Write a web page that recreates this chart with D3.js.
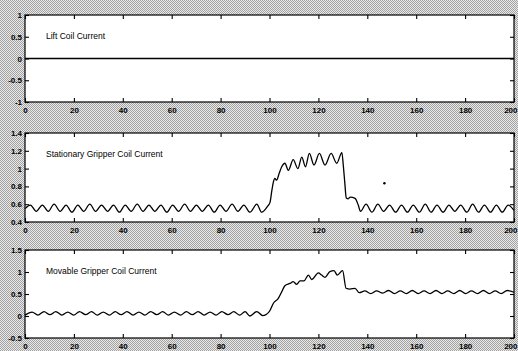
<!DOCTYPE html>
<html>
<head>
<meta charset="utf-8">
<script src="https://cdn.jsdelivr.net/npm/d3@7"></script>
<style>
  body { margin: 0; background: #fff; }
  svg { display: block; }
</style>
</head>
<body>
<div id="chart"></div>
<script>
// ---- data ----
const xTicks = [0, 20, 40, 60, 80, 100, 120, 140, 160, 180, 200];

const panelTitles = ['Lift Coil Current', 'Stationary Gripper Coil Current', 'Movable Gripper Coil Current'];

const liftTicks = [-1, -0.5, 0, 0.5, 1];
const statTicks = [0.4, 0.6, 0.8, 1, 1.2, 1.4];
const movTicks = [-0.5, 0, 0.5, 1, 1.5];

const liftTime = [0, 50, 100, 150, 200];
const liftCurrent = [0, 0, 0, 0, 0];

const statTime = [0, 2.2, 4.6, 7.1, 9.5, 11.9, 14.4, 16.8, 19.2, 21.6, 24.0, 26.5, 28.9, 31.3, 33.8, 36.2,
  38.6, 41.0, 43.4, 45.9, 48.3, 50.7, 53.1, 55.6, 58.0, 60.4, 62.8, 65.3, 67.7, 70.1, 72.5, 75.0, 77.4,
  79.8, 82.2, 84.7, 87.1, 89.5, 92.0, 94.8, 96.8, 99.3, 100.2, 101.0, 101.6, 102.2, 102.9, 104.0, 105.0,
  106.3, 107.7, 109.7, 111.6, 113.2, 114.7, 116.3, 118.2, 120.4, 122.7, 125.2, 127.5, 129.6, 130.2, 130.8,
  131.4, 132.2, 133.0, 135.0, 136.3, 137.2, 139.5, 141.9, 144.3, 146.7, 149.1, 151.6, 154.0, 156.4, 158.8,
  161.3, 163.7, 166.1, 168.5, 171.0, 173.4, 175.8, 178.2, 180.7, 183.1, 185.5, 187.9, 190.4, 192.8, 195.2,
  197.6, 200.0];
const statCurrent = [0.55, 0.59, 0.52, 0.59, 0.52, 0.60, 0.52, 0.59, 0.51, 0.59, 0.52, 0.60, 0.52, 0.59, 0.52, 0.59,
  0.51, 0.59, 0.52, 0.60, 0.52, 0.59, 0.52, 0.59, 0.51, 0.59, 0.52, 0.60, 0.52, 0.59, 0.52, 0.59, 0.51,
  0.59, 0.52, 0.60, 0.52, 0.59, 0.51, 0.60, 0.51, 0.58, 0.62, 0.76, 0.85, 0.89, 0.87, 0.95, 1.02,
  1.06, 0.98, 1.10, 1.00, 1.13, 1.02, 1.17, 1.04, 1.17, 1.04, 1.17, 1.06, 1.18, 1.03, 0.84,
  0.67, 0.66, 0.68, 0.665, 0.59, 0.52, 0.60, 0.51, 0.60, 0.52, 0.59, 0.51, 0.59, 0.51, 0.59,
  0.51, 0.60, 0.51, 0.59, 0.51, 0.59, 0.52, 0.59, 0.51, 0.60, 0.51, 0.59, 0.51, 0.59, 0.51,
  0.59, 0.53];
// one stray sample on the stationary trace
const statDotTime = [147];
const statDotCurrent = [0.835];

const movTime = [0, 2.9, 5.3, 7.8, 10.2, 12.6, 15.1, 17.5, 19.9, 22.3, 24.8, 27.2, 29.6, 32.0, 34.5, 36.9,
  39.3, 41.7, 44.2, 46.6, 49.0, 51.4, 53.9, 56.3, 58.7, 61.1, 63.6, 66.0, 68.4, 70.8, 73.3, 75.7, 78.1,
  80.5, 83.0, 85.4, 87.8, 90.0, 92.0, 94.8, 97.2, 99.9, 101.6, 103.6, 105.0, 106.3, 108.4, 109.7, 111.1,
  112.5, 114.1, 115.9, 117.3, 120.0, 121.3, 122.7, 124.7, 126.4, 127.7, 129.9, 131.3, 132.9, 135.0, 136.7,
  139.0, 141.4, 143.8, 146.3, 148.7, 151.1, 153.5, 156.0, 158.4, 160.8, 163.2, 165.7, 168.1, 170.5, 172.9,
  175.4, 177.8, 180.2, 182.6, 185.1, 187.5, 189.9, 192.3, 194.8, 197.2, 200.0];
const movCurrent = [0.02, 0.09, 0.02, 0.10, 0.03, 0.10, 0.02, 0.09, 0.02, 0.10, 0.03, 0.10, 0.02, 0.09, 0.02, 0.10,
  0.03, 0.10, 0.02, 0.09, 0.02, 0.10, 0.03, 0.10, 0.02, 0.09, 0.02, 0.10, 0.03, 0.10, 0.02, 0.09, 0.02,
  0.10, 0.03, 0.10, 0.02, 0.10, 0.00, 0.10, 0.01, 0.10, 0.29, 0.40, 0.55, 0.69, 0.74, 0.78, 0.72,
  0.80, 0.80, 0.93, 0.83, 0.98, 0.93, 0.88, 1.01, 1.03, 0.93, 1.03, 0.63, 0.61, 0.63, 0.53,
  0.57, 0.51, 0.57, 0.52, 0.58, 0.51, 0.57, 0.51, 0.58, 0.51, 0.57, 0.51, 0.58, 0.51, 0.57,
  0.51, 0.58, 0.51, 0.57, 0.51, 0.58, 0.51, 0.57, 0.51, 0.58, 0.54];

// ---- page ----
const W = 518, H = 351;
const svg = d3.select('#chart').append('svg').attr('width', W).attr('height', H);

// scanned halftone grey behind the axes
const defs = svg.append('defs');
const pat = defs.append('pattern').attr('id', 'dither')
  .attr('width', 2).attr('height', 2).attr('patternUnits', 'userSpaceOnUse');
pat.append('rect').attr('width', 2).attr('height', 2).attr('fill', '#e9e9e9');
pat.append('rect').attr('x', 0).attr('y', 0).attr('width', 1).attr('height', 1).attr('fill', '#a2a2a2');
pat.append('rect').attr('x', 1).attr('y', 1).attr('width', 1).attr('height', 1).attr('fill', '#a2a2a2');
svg.append('rect').attr('width', W).attr('height', H).attr('fill', 'url(#dither)');

const left = 25, right = 514;
const x = d3.scaleLinear().domain([0, 200]).range([left, right]);

const panels = [
  { title: panelTitles[0], top: 15, bottom: 102, domain: [-1, 1], ticks: liftTicks, time: liftTime, vals: liftCurrent },
  { title: panelTitles[1], top: 133, bottom: 222, domain: [0.4, 1.4], ticks: statTicks, time: statTime, vals: statCurrent,
    dotT: statDotTime, dotV: statDotCurrent },
  { title: panelTitles[2], top: 250, bottom: 338, domain: [-0.5, 1.5], ticks: movTicks, time: movTime, vals: movCurrent }
];

const fontFam = "'Liberation Sans', Arial, sans-serif";

const drawPanel = (p) => {
  const y = d3.scaleLinear().domain(p.domain).range([p.bottom, p.top]);
  const g = svg.append('g');

  g.append('rect')
    .attr('x', left).attr('y', p.top)
    .attr('width', right - left).attr('height', p.bottom - p.top)
    .attr('fill', '#fff');

  // trace
  const line = d3.line()
    .x(d => x(d[0]))
    .y(d => y(d[1]))
    .curve(d3.curveMonotoneX);
  const pts = p.time.map((t, i) => [t, p.vals[i]]);
  g.append('path').datum(pts)
    .attr('d', line)
    .attr('fill', 'none')
    .attr('stroke', '#000')
    .attr('stroke-width', 1.3)
    .attr('stroke-linejoin', 'round');

  if (p.dotT) {
    g.selectAll('circle.stray').data(p.dotT).enter().append('circle')
      .attr('cx', d => x(d))
      .attr('cy', (d, i) => y(p.dotV[i]))
      .attr('r', 1.2)
      .attr('fill', '#000');
  }

  // inward ticks on all four sides, labels on left and bottom only
  const bottomAxis = d3.axisBottom(x).tickValues(xTicks).tickSize(-4).tickPadding(5).tickFormat(d => String(d));
  const topAxis = d3.axisTop(x).tickValues(xTicks).tickSize(-4).tickFormat('');
  const leftAxis = d3.axisLeft(y).tickValues(p.ticks).tickSize(-4).tickPadding(3).tickFormat(d => String(d));
  const rightAxis = d3.axisRight(y).tickValues(p.ticks).tickSize(-4).tickFormat('');

  const axes = [
    g.append('g').attr('transform', `translate(0,${p.bottom})`).call(bottomAxis),
    g.append('g').attr('transform', `translate(0,${p.top})`).call(topAxis),
    g.append('g').attr('transform', `translate(${left},0)`).call(leftAxis),
    g.append('g').attr('transform', `translate(${right},0)`).call(rightAxis)
  ];
  axes.forEach(a => {
    a.select('.domain').remove();
    a.selectAll('line').attr('stroke', '#000').attr('stroke-width', 1.1);
    a.selectAll('text')
      .style('font-family', fontFam)
      .style('font-size', '8px')
      .style('font-weight', 'bold')
      .attr('fill', '#000');
  });
  // the last x label sits on the window edge; pull it in so it stays whole
  axes[0].selectAll('.tick text')
    .filter(d => d === 200)
    .attr('text-anchor', 'end')
    .attr('x', W - 1 - right);

  g.append('rect')
    .attr('x', left).attr('y', p.top)
    .attr('width', right - left).attr('height', p.bottom - p.top)
    .attr('fill', 'none')
    .attr('stroke', '#000')
    .attr('stroke-width', 1.2);

  g.append('text')
    .attr('x', 46)
    .attr('y', p.top + 24)
    .text(p.title)
    .style('font-family', fontFam)
    .style('font-size', '8.5px')
    .attr('fill', '#000');
};

panels.forEach(drawPanel);
</script>
</body>
</html>
